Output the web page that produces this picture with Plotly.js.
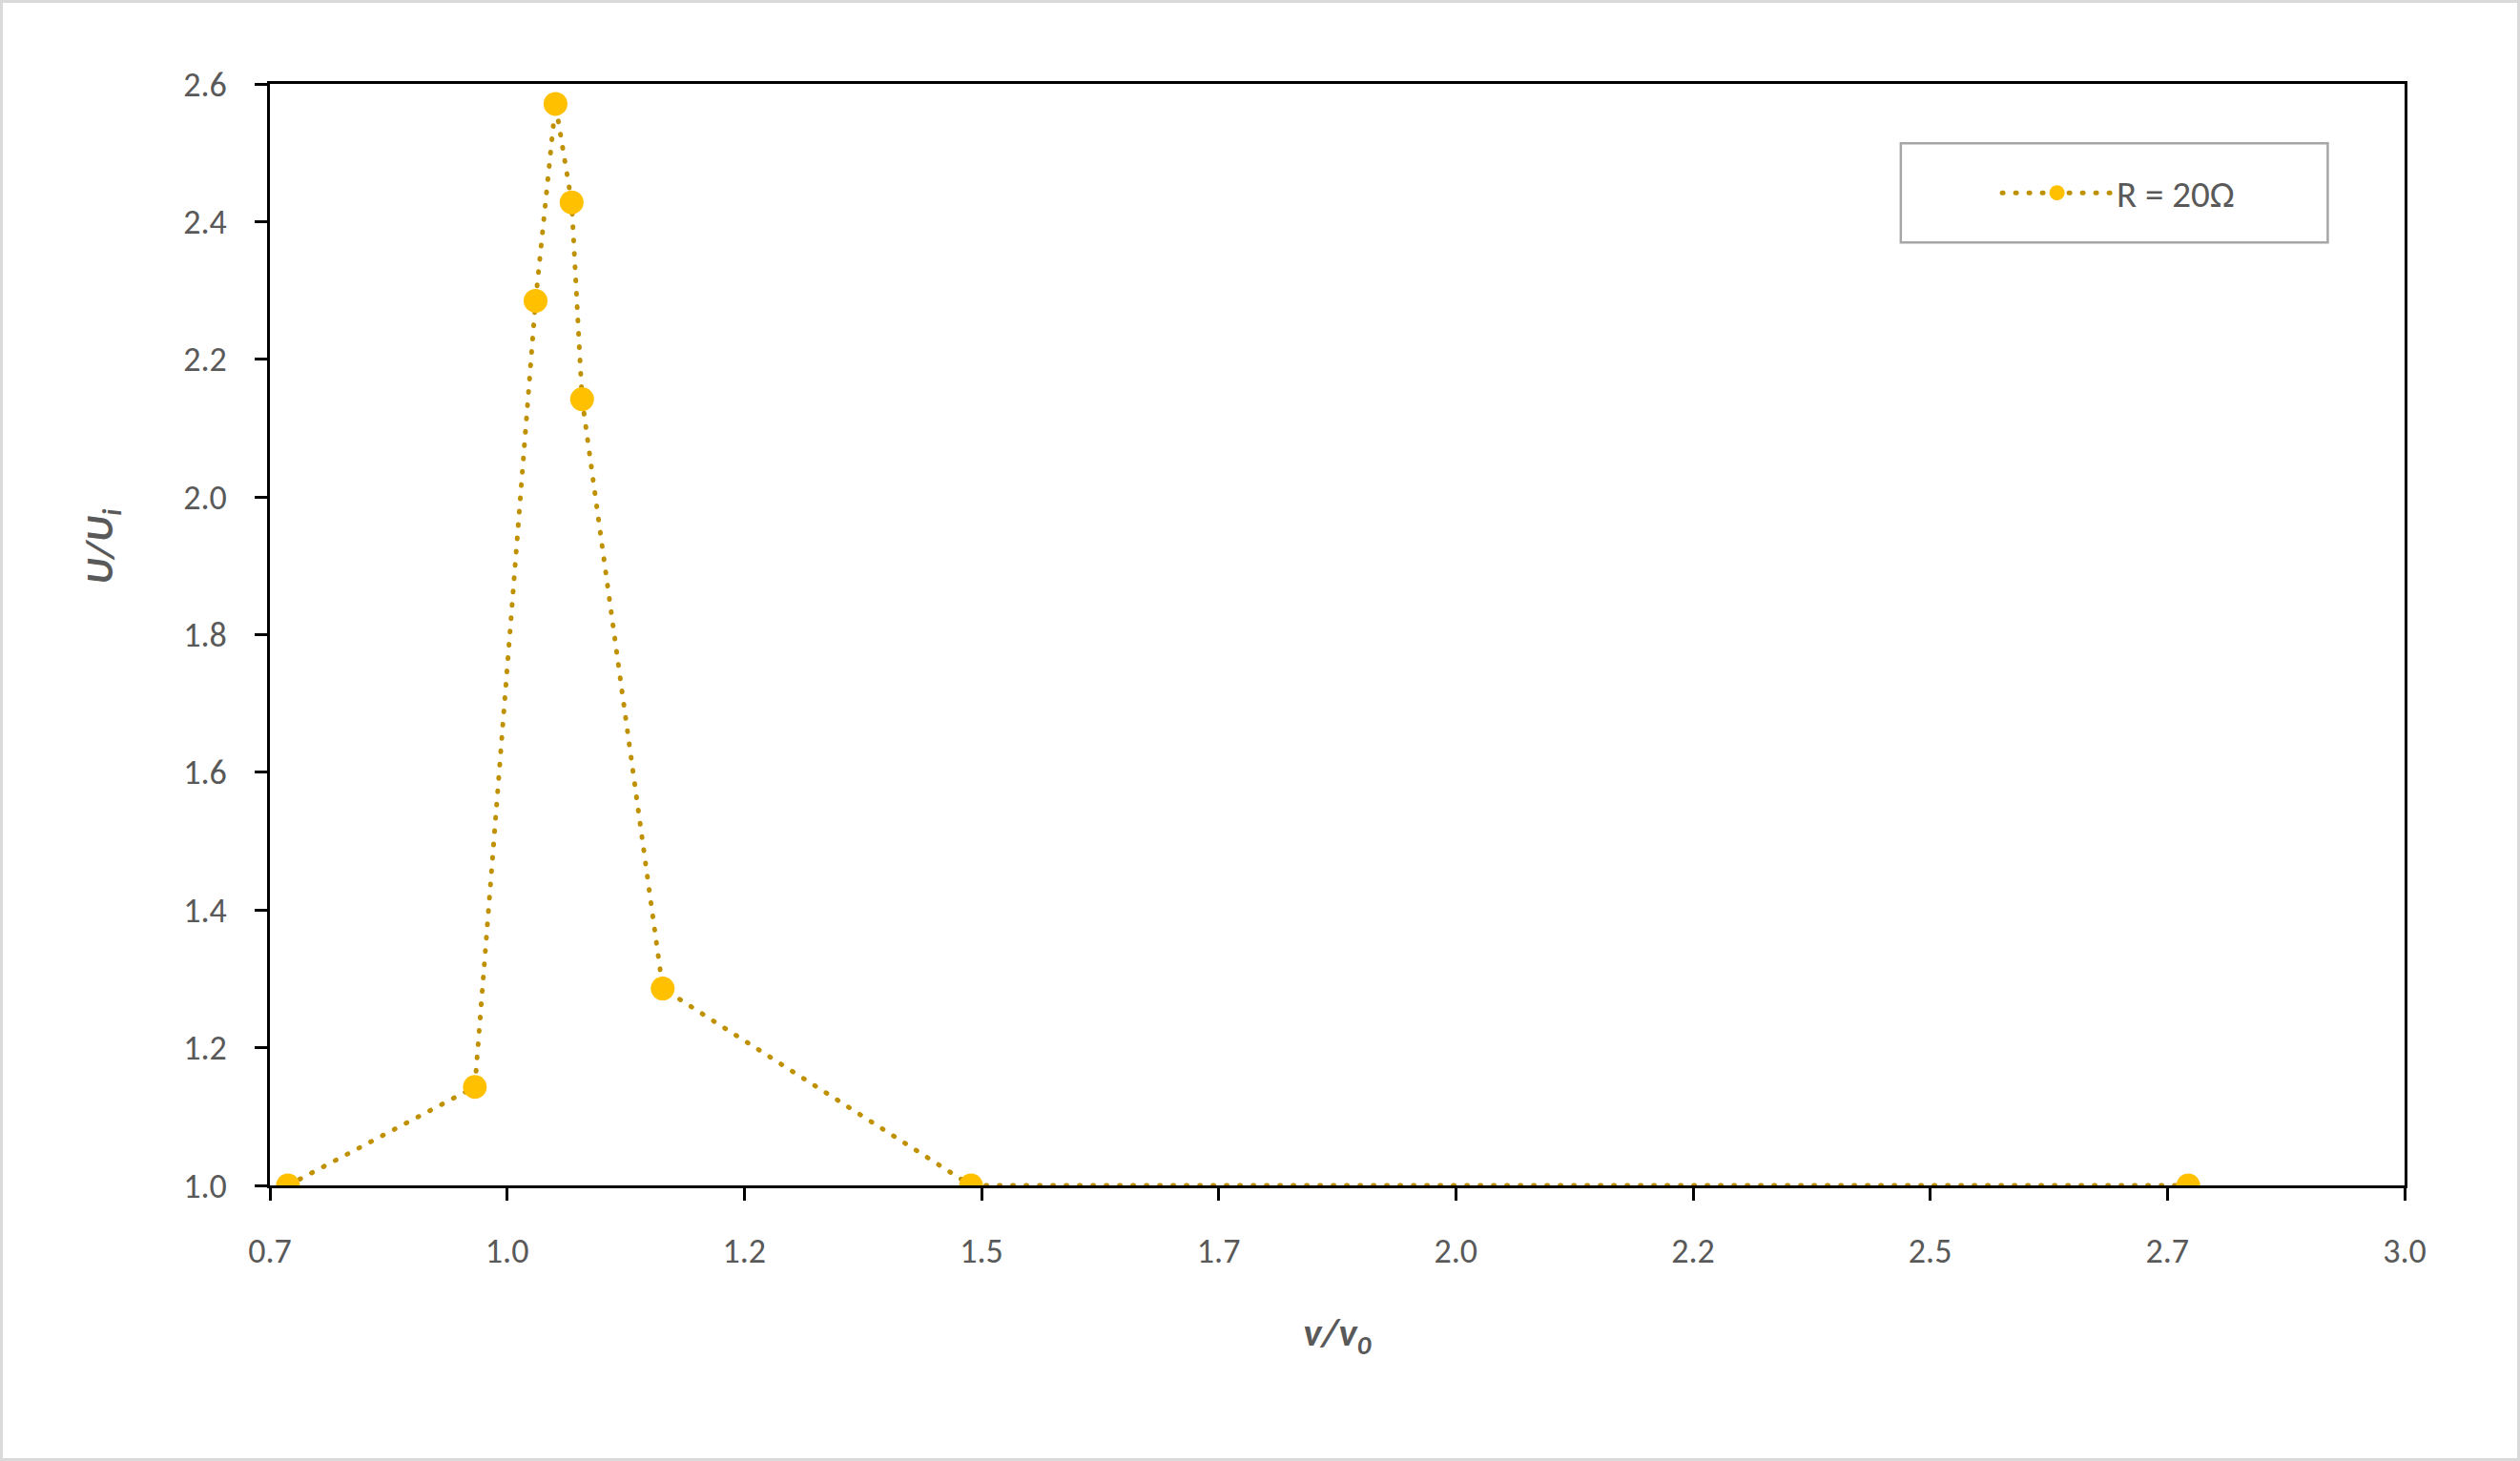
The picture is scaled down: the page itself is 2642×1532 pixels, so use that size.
<!DOCTYPE html>
<html>
<head>
<meta charset="utf-8">
<script src="https://cdn.plot.ly/plotly-3.0.1.min.js"></script>
<style>
  html, body { margin: 0; padding: 0; background: #ffffff; }
  #frame { width: 2642px; height: 1532px; box-sizing: border-box; border: 3px solid #d9d9d9; background: #ffffff; }
  #chart { width: 2636px; height: 1526px; }
  .js-line { stroke-linecap: round; }
</style>
</head>
<body>
<div id="frame"><div id="chart"></div></div>
<script>
// Data
var seriesName = "R = 20Ω";
var freqRatio = [0.769, 0.966, 1.030, 1.051, 1.068, 1.079, 1.164, 1.489, 2.772];
var voltRatio = [1.000, 1.143, 2.285, 2.571, 2.428, 2.142, 1.286, 1.000, 1.000];
var xTickVals = [0.75, 1.0, 1.25, 1.5, 1.75, 2.0, 2.25, 2.5, 2.75, 3.0];
var xTickText = ["0.7", "1.0", "1.2", "1.5", "1.7", "2.0", "2.2", "2.5", "2.7", "3.0"];
var xTitle = "v/v<sub>0</sub>";
var yTitle = "U/U<sub>i</sub>";

var baseFont = "Carlito, Lato, 'Liberation Sans', sans-serif";
var textColor = "#595959";
var titleFont = { family: baseFont, size: 41, color: textColor, weight: "bold", style: "italic" };

var trace = {
  type: "scatter",
  mode: "lines+markers",
  name: seriesName,
  x: freqRatio,
  y: voltRatio,
  line: { color: "#BF9000", width: 5, dash: "1px,13px" },
  marker: { color: "#FFC000", size: 25, line: { width: 0 } },
  hoverinfo: "x+y"
};

var layout = {
  width: 2636,
  height: 1526,
  paper_bgcolor: "#ffffff",
  plot_bgcolor: "#ffffff",
  margin: { l: 280, r: 118, t: 85, b: 286 },
  font: { family: baseFont, size: 36, color: textColor },
  showlegend: true,
  legend: {
    x: 0.866, y: 0.901, xanchor: "center", yanchor: "middle",
    bgcolor: "rgba(0,0,0,0)", borderwidth: 0,
    font: { family: baseFont, size: 39, color: textColor },
    itemwidth: 115
  },
  shapes: [{
    type: "rect", xref: "paper", yref: "paper",
    x0: 0.764, x1: 0.964, y0: 0.856, y1: 0.946,
    line: { color: "#a6a6a6", width: 2.5 },
    fillcolor: "rgba(0,0,0,0)",
    layer: "below"
  }],
  annotations: [{
    text: yTitle, textangle: -90, showarrow: false,
    xref: "paper", yref: "paper", x: -0.0786, y: 0.58,
    xanchor: "center", yanchor: "middle",
    font: titleFont
  }],
  xaxis: {
    range: [0.75, 3.0],
    tickmode: "array",
    tickvals: xTickVals,
    ticktext: xTickText,
    showgrid: false,
    zeroline: false,
    showline: true, linecolor: "#000000", linewidth: 3, mirror: true,
    ticks: "outside", ticklen: 13, tickwidth: 3, tickcolor: "#000000",
    ticklabelstandoff: 22,
    tickfont: { family: baseFont, size: 36, color: textColor },
    title: { text: xTitle, standoff: 50, font: titleFont }
  },
  yaxis: {
    range: [1.0, 2.6],
    dtick: 0.2,
    tick0: 1.0,
    tickformat: ".1f",
    showgrid: false,
    zeroline: false,
    showline: true, linecolor: "#000000", linewidth: 3, mirror: true,
    ticks: "outside", ticklen: 13, tickwidth: 3, tickcolor: "#000000",
    ticklabelstandoff: 22,
    tickfont: { family: baseFont, size: 36, color: textColor }
  }
};

Plotly.newPlot("chart", [trace], layout, { displayModeBar: false, staticPlot: false });
</script>
</body>
</html>
